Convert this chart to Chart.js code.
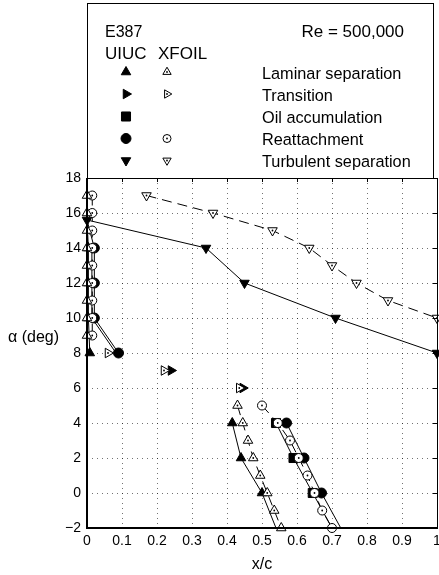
<!DOCTYPE html>
<html>
<head>
<meta charset="utf-8">
<script src="https://cdn.jsdelivr.net/npm/chart.js@4/dist/chart.umd.min.js"></script>
<style>
  html, body { margin: 0; padding: 0; background: #fff; }
  #wrap { width: 439px; height: 575px; position: relative; }
</style>
</head>
<body>
<div id="wrap"><canvas id="c" width="439" height="575"></canvas></div>
<script>
const FONT = '"Liberation Sans", Arial, Helvetica, sans-serif';

// Axis ticks
const xTicks = [0, 0.1, 0.2, 0.3, 0.4, 0.5, 0.6, 0.7, 0.8, 0.9, 1];
const yTicks = [-2, 0, 2, 4, 6, 8, 10, 12, 14, 16, 18];

// UIUC oil-flow measurements (x/c at each angle of attack)
const uiucAlphaHigh    = [8, 10, 12, 14];
const uiucLamSepHigh   = [0.008, 0.004, 0.004, 0.004];
const uiucOilHigh      = [0.083, 0.014, 0.014, 0.014];
const uiucReattachHigh = [0.09, 0.021, 0.021, 0.021];
const uiucAlphaLow     = [4, 2, 0, -2];
const uiucLamSepLow    = [0.415, 0.44, 0.50, 0.54];
const uiucOilLow       = [0.54, 0.59, 0.645, 0.70];
const uiucReattachLow  = [0.57, 0.62, 0.67, 0.725];
const uiucTransAlpha   = [7, 6];
const uiucTransX       = [0.24, 0.445];
const uiucTurbAlpha    = [15.6, 14, 12, 10, 8];
const uiucTurbX        = [0.0, 0.34, 0.45, 0.71, 1.0];

// XFOIL predictions
const xfAlphaHigh    = [17, 16, 15, 14, 13, 12, 11, 10, 9];
const xfLamSepHigh   = [0, 0, 0, 0, 0, 0, 0, 0, 0];
const xfReattachHigh = [0.015, 0.015, 0.015, 0.015, 0.015, 0.015, 0.015, 0.015, 0.015];
const xfAlphaLow     = [5, 4, 3, 2, 1, 0, -1, -2];
const xfLamSepLow    = [0.43, 0.445, 0.46, 0.475, 0.495, 0.515, 0.535, 0.555];
const xfReattachLow  = [0.50, 0.545, 0.58, 0.605, 0.63, 0.65, 0.672, 0.70];
const xfTransAlpha   = [8, 7, 6];
const xfTransX       = [0.06, 0.22, 0.435];
const xfTurbAlpha    = [17, 16, 15, 14, 13, 12, 11, 10];
const xfTurbX        = [0.17, 0.36, 0.53, 0.635, 0.70, 0.77, 0.86, 1.0];

const pts = (xs, as) => xs.map((x, i) => ({ x, y: as[i] }));

// the upper-branch UIUC curves all meet at the stall point
const stall = { x: uiucTurbX[0], y: uiucTurbAlpha[0] };

// UIUC: filled black symbols, solid lines; no symbol where a curve runs into the axis
function uiucSet(data, style, rotation, radius, showLine, hideLast) {
  return {
    data,
    showLine,
    borderColor: '#000',
    borderWidth: 1,
    backgroundColor: '#000',
    pointStyle: style,
    pointRotation: rotation,
    pointRadius: data.map((p, i) => (hideLast && i === data.length - 1) ? 0 : radius),
    pointBorderColor: '#000',
    pointBackgroundColor: '#000',
    pointBorderWidth: 1,
    clip: false
  };
}
// XFOIL: open symbols with a centre dot, dashed lines
function xfoilSet(data, style, rotation, radius, showLine) {
  return {
    data,
    showLine,
    centreDot: true,
    borderColor: '#000',
    borderWidth: 1,
    borderDash: [10, 6],
    pointStyle: style,
    pointRotation: rotation,
    pointRadius: radius,
    pointBorderColor: '#000',
    pointBackgroundColor: '#fff',
    pointBorderWidth: 1,
    clip: false
  };
}

const datasets = [
  // XFOIL (drawn on top)
  xfoilSet(pts(xfLamSepHigh, xfAlphaHigh), 'triangle', 0, 5.5, true),
  xfoilSet(pts(xfLamSepLow, xfAlphaLow), 'triangle', 0, 5.5, true),
  xfoilSet(pts(xfReattachHigh, xfAlphaHigh), 'circle', 0, 4.5, true),
  xfoilSet(pts(xfReattachLow, xfAlphaLow), 'circle', 0, 4.5, true),
  xfoilSet(pts(xfTransX, xfTransAlpha), 'triangle', 90, 5.5, false),
  xfoilSet(pts(xfTurbX, xfTurbAlpha), 'triangle', 180, 5.5, true),
  // UIUC
  uiucSet(pts(uiucLamSepHigh, uiucAlphaHigh).concat([stall]), 'triangle', 0, 5.5, true, true),
  uiucSet(pts(uiucOilHigh, uiucAlphaHigh), 'rect', 0, 0, true, false),
  uiucSet(pts(uiucReattachHigh, uiucAlphaHigh).concat([stall]), 'circle', 0, 5, true, true),
  uiucSet(pts(uiucLamSepLow, uiucAlphaLow), 'triangle', 0, 5.5, true, true),
  uiucSet(pts(uiucOilLow, uiucAlphaLow), 'rect', 0, 6.4, true, true),
  uiucSet(pts(uiucReattachLow, uiucAlphaLow), 'circle', 0, 5, true, true),
  uiucSet(pts(uiucTransX, uiucTransAlpha), 'triangle', 90, 5.5, false, false),
  uiucSet(pts(uiucTurbX, uiucTurbAlpha), 'triangle', 180, 5.5, true, false)
];

// legend rows: label, UIUC symbol, XFOIL symbol
const legendLabels = ['Laminar separation', 'Transition', 'Oil accumulation', 'Reattachment', 'Turbulent separation'];
const legendUiuc  = [['triangle', 0, 5.5], ['triangle', 90, 5.5], ['rect', 0, 6.4], ['circle', 0, 5], ['triangle', 180, 5.5]];
const legendXfoil = [['triangle', 0, 4.8], ['triangle', 90, 4.8], null, ['circle', 0, 4], ['triangle', 180, 4.8]];

function dot(ctx, x, y) {
  ctx.beginPath();
  ctx.arc(x, y, 0.9, 0, Math.PI * 2);
  ctx.fill();
}

const frame = {
  id: 'frame',
  afterDatasetsDraw(chart) {
    const { ctx, chartArea: a } = chart;
    ctx.save();
    // centre dots of the open XFOIL symbols
    ctx.fillStyle = '#000';
    chart.data.datasets.forEach((ds, i) => {
      if (!ds.centreDot) return;
      chart.getDatasetMeta(i).data.forEach(el => dot(ctx, el.x, el.y));
    });

    ctx.strokeStyle = '#000';
    ctx.lineWidth = 1;
    // small inward ticks on the top and right edges
    const xs = chart.scales.x, ys = chart.scales.y;
    ctx.beginPath();
    xTicks.forEach(v => {
      const px = Math.round(xs.getPixelForValue(v)) + 0.5;
      ctx.moveTo(px, a.top); ctx.lineTo(px, a.top + 4);
    });
    yTicks.forEach(v => {
      const py = Math.round(ys.getPixelForValue(v)) + 0.5;
      ctx.moveTo(a.right, py); ctx.lineTo(a.right - 4, py);
    });
    ctx.stroke();
    // thin top and right edges
    ctx.beginPath();
    ctx.moveTo(a.left, a.top + 0.5);
    ctx.lineTo(a.right + 0.5, a.top + 0.5);
    ctx.lineTo(a.right + 0.5, a.bottom);
    ctx.stroke();
    // heavy left and bottom axes
    ctx.lineWidth = 2;
    ctx.beginPath();
    ctx.moveTo(a.left, a.top);
    ctx.lineTo(a.left, a.bottom);
    ctx.lineTo(a.right + 1, a.bottom);
    ctx.stroke();
    ctx.restore();
  },
  afterDraw(chart) {
    const { ctx, chartArea: a } = chart;
    ctx.save();
    // legend box above the plot
    ctx.strokeStyle = '#000';
    ctx.lineWidth = 1;
    ctx.strokeRect(a.left + 0.5, 3.5, 346, a.top - 3);

    ctx.fillStyle = '#000';
    ctx.textBaseline = 'alphabetic';
    ctx.textAlign = 'left';
    ctx.font = '16px ' + FONT;
    ctx.fillText('E387', 105, 37);
    ctx.font = '17px ' + FONT;
    ctx.fillText('UIUC', 105, 59);
    ctx.fillText('XFOIL', 158, 59);
    ctx.textAlign = 'right';
    ctx.fillText('Re = 500,000', 404, 37);

    ctx.font = '16.3px ' + FONT;
    const rowY = [72, 94, 116.5, 138.5, 160.5];
    ctx.textAlign = 'left';
    legendLabels.forEach((t, i) => {
      const y = rowY[i];
      const [st, rot, r] = legendUiuc[i];
      ctx.fillStyle = '#000';
      ctx.strokeStyle = '#000';
      ctx.lineWidth = 1;
      Chart.helpers.drawPoint(ctx, { pointStyle: st, rotation: rot, radius: r, borderWidth: 1 }, 126, y);
      const xf = legendXfoil[i];
      if (xf) {
        ctx.fillStyle = '#fff';
        Chart.helpers.drawPoint(ctx, { pointStyle: xf[0], rotation: xf[1], radius: xf[2], borderWidth: 1 }, 167, y);
        ctx.fillStyle = '#000';
        dot(ctx, 167, y);
      }
      ctx.fillStyle = '#000';
      ctx.fillText(t, 262, y + 6.5);
    });

    // axis titles
    ctx.font = '16px ' + FONT;
    ctx.fillText('\u03b1 (deg)', 8, 342);
    ctx.textAlign = 'center';
    ctx.fillText('x/c', 262, 569);
    ctx.restore();
  }
};

new Chart(document.getElementById('c'), {
  type: 'scatter',
  data: { datasets },
  options: {
    responsive: false,
    animation: false,
    events: [],
    layout: { autoPadding: false, padding: { top: 178, right: 2, left: 0, bottom: 0 } },
    plugins: { legend: { display: false }, tooltip: { enabled: false } },
    scales: {
      x: {
        type: 'linear',
        min: 0, max: 1,
        afterBuildTicks: s => { s.ticks = xTicks.map(v => ({ value: v })); },
        afterFit: s => { s.height = 47; s.paddingLeft = 0; s.paddingRight = 0; },
        ticks: {
          autoSkip: false,
          maxRotation: 0,
          padding: 5,
          color: '#000',
          font: { family: FONT, size: 14 },
          callback: v => (v === 0 || v === 1) ? String(v) : v.toFixed(1)
        },
        grid: { color: 'rgba(0,0,0,0.55)', lineWidth: 1, drawTicks: false },
        border: { display: false, dash: [1, 4] }
      },
      y: {
        type: 'linear',
        min: -2, max: 18,
        afterBuildTicks: s => { s.ticks = yTicks.map(v => ({ value: v })); },
        afterFit: s => { s.width = 87; s.paddingTop = 0; s.paddingBottom = 0; },
        ticks: {
          autoSkip: false,
          padding: 6,
          color: '#000',
          font: { family: FONT, size: 14 },
          callback: v => v < 0 ? '\u2212' + Math.abs(v) : String(v)
        },
        grid: { color: 'rgba(0,0,0,0.55)', lineWidth: 1, drawTicks: false },
        border: { display: false, dash: [1, 4] }
      }
    }
  },
  plugins: [frame]
});
</script>
</body>
</html>
